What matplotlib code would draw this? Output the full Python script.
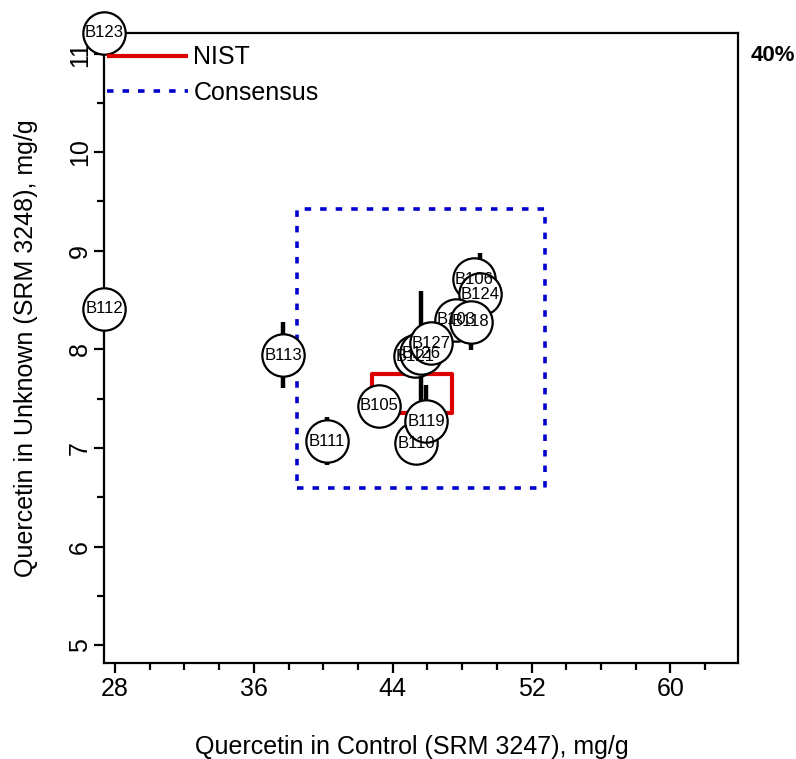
import numpy as np
import matplotlib
matplotlib.use('Agg')
import matplotlib.pyplot as plt

plt.rcParams['font.family'] = ['Liberation Sans', 'DejaVu Sans']

## Lab results (x: control SRM 3247, y: unknown SRM 3248), mg/g
labs = ['B123', 'B112', 'B113', 'B111', 'B105', 'B106', 'B124', 'B103',
        'B118', 'B121', 'B126', 'B127', 'B110', 'B119']
x_ctl = [27.0, 27.0, 37.68, 40.21, 43.23, 48.68, 49.03, 47.64,
         48.49, 45.30, 45.61, 46.20, 45.34, 45.93]
y_unk = [11.5, 8.41, 7.94, 7.07, 7.43, 8.71, 8.56, 8.30,
         8.28, 7.93, 7.96, 8.06, 7.05, 7.27]
u_unk = [0.0, 0.0, 0.335, 0.24, 0.0, 0.0, 0.42, 0.0,
         0.29, 0.0, 0.63, 0.0, 0.225, 0.364]

# NIST and consensus boxes (x range, y range)
nist_x = [42.79, 47.40]
nist_y = [7.35, 7.75]
cons_x = [38.47, 52.77]
cons_y = [6.59, 9.42]

xlim = (27.37, 63.87)
ylim = (4.82, 11.21)

red = '#dd0000'
blue = '#0000cc'

fig = plt.figure(figsize=(7.96, 7.59), dpi=100)
ax = fig.add_axes([0.1307, 0.1266, 0.796, 0.8301])

# clip out-of-range labs to the plot edge
xp = np.clip(x_ctl, *xlim)
yp = np.clip(y_unk, *ylim)

# boxes
ax.plot([nist_x[0], nist_x[1], nist_x[1], nist_x[0], nist_x[0]],
        [nist_y[0], nist_y[0], nist_y[1], nist_y[1], nist_y[0]],
        color=red, lw=3, solid_capstyle='butt', zorder=2, label='NIST')
ax.plot([cons_x[0], cons_x[1], cons_x[1], cons_x[0], cons_x[0]],
        [cons_y[0], cons_y[0], cons_y[1], cons_y[1], cons_y[0]],
        color=blue, lw=2.6, linestyle=(0, (1.8, 2.5)), dash_capstyle='butt',
        zorder=2, label='Consensus')

# uncertainty bars
for xi, yi, ui in zip(xp, yp, u_unk):
    if ui > 0:
        ax.plot([xi, xi], [yi - ui, yi + ui], color='black', lw=3.2,
                solid_capstyle='butt', zorder=3)

# circles, then labels
ax.scatter(xp, yp, s=30.5**2, facecolor='white', edgecolor='black',
           linewidth=1.6, zorder=4, clip_on=False)
for xi, yi, lab in zip(xp, yp, labs):
    ax.text(xi, yi, lab, ha='center', va='center', fontsize=12, zorder=5)

ax.set_xlim(xlim)
ax.set_ylim(ylim)
ax.set_xticks(np.arange(28, 61, 8))
ax.set_xticks(np.arange(30, 63, 2), minor=True)
ax.set_yticks(np.arange(5, 12, 1))
ax.set_yticks(np.arange(5.5, 11, 1), minor=True)
for lbl in ax.get_yticklabels():
    lbl.set_rotation(90)
    lbl.set_va('center')
ax.tick_params(axis='both', which='major', length=7, width=1.6,
               labelsize=18, direction='out')
ax.tick_params(axis='both', which='minor', length=5, width=1.6,
               direction='out')
ax.tick_params(axis='x', pad=3)
ax.tick_params(axis='y', pad=1.5)
for sp in ax.spines.values():
    sp.set_linewidth(1.6)

ax.set_xlabel('Quercetin in Control (SRM 3247), mg/g', fontsize=18)
ax.set_ylabel('Quercetin in Unknown (SRM 3248), mg/g', fontsize=18)
ax.xaxis.set_label_coords(0.486, -0.114)
ax.yaxis.set_label_coords(-0.105, 0.5)

ax.legend(loc='upper left', bbox_to_anchor=(0.005, 0.98), frameon=False,
          fontsize=18, handlelength=3.25, handletextpad=0.2,
          labelspacing=0.46, borderpad=0.0, borderaxespad=0.0)

fig.text(0.971, 0.927, '40%', fontsize=16, fontweight='bold',
         ha='center', va='center')

fig.savefig('out.png', dpi=100)
